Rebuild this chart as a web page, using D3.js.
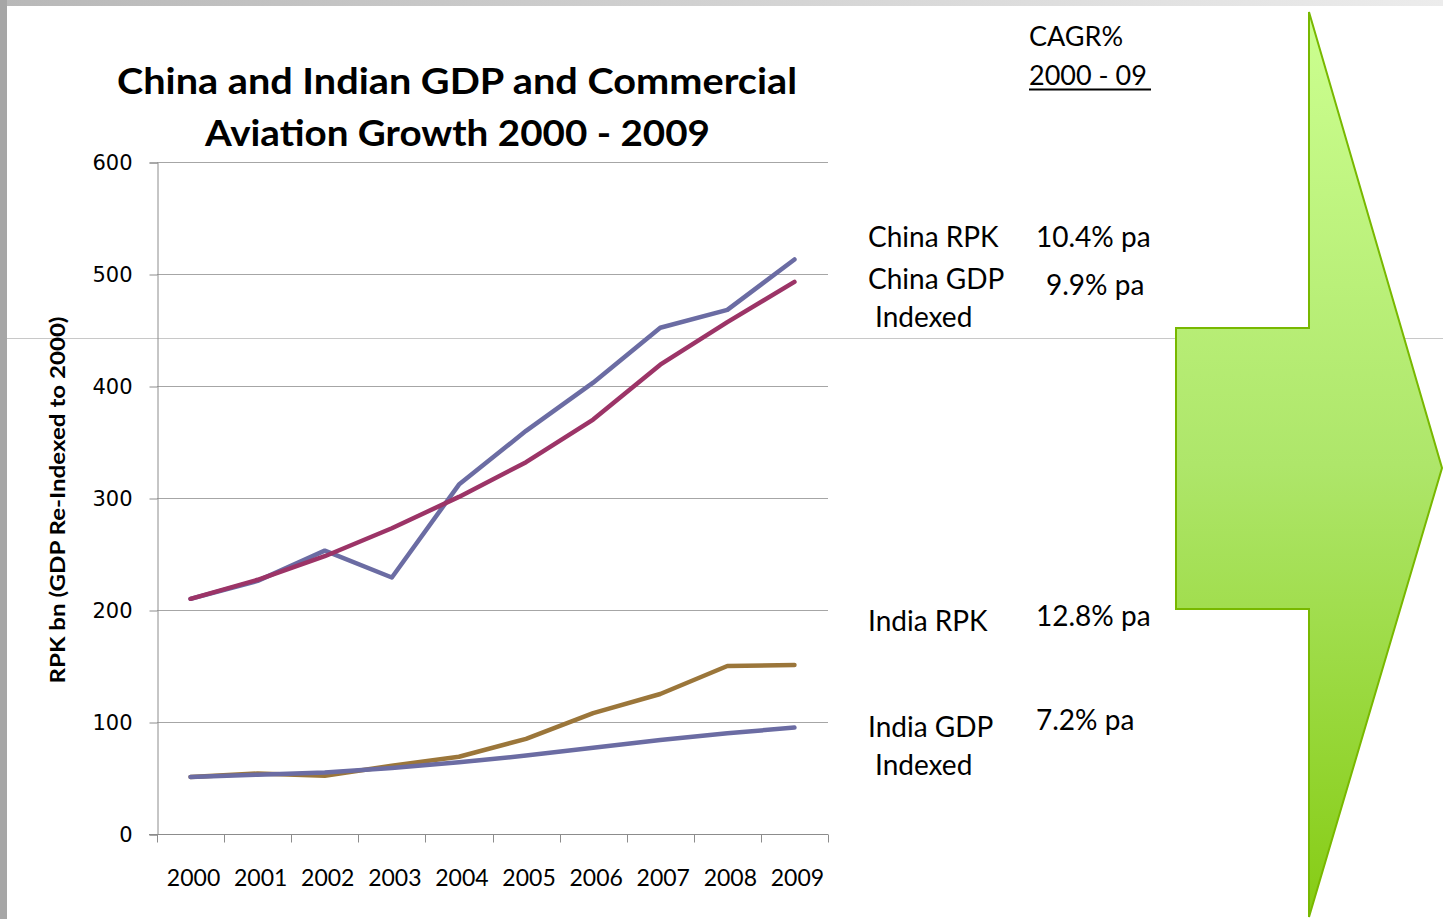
<!DOCTYPE html>
<html>
<head>
<meta charset="utf-8">
<script src="https://cdn.jsdelivr.net/npm/d3@7/dist/d3.min.js"></script>
<style>
  html, body { margin: 0; padding: 0; background: #fff; }
  svg { display: block; }
</style>
</head>
<body>
<svg id="chart" width="1443" height="919"></svg>
<script>
// ---- data ----
const years = ["2000","2001","2002","2003","2004","2005","2006","2007","2008","2009"];
const chinaRPK = [210, 226, 253, 229, 312, 360, 403, 452, 468, 513];
const chinaGDP = [210, 227, 248, 273, 301, 332, 370, 419, 457, 493];
const indiaRPK = [51, 54, 52, 61, 69, 85, 108, 125, 150, 151];
const indiaGDP = [51, 53, 55, 59, 64, 70, 77, 84, 90, 95];
const yTicks = [0, 100, 200, 300, 400, 500, 600];
const seriesNames = ["China RPK", "China GDP", "India RPK", "India GDP"];
const cagrLabels = ["10.4% pa", "9.9% pa", "12.8% pa", "7.2% pa"];

const svg = d3.select("#chart");
const W = 1443, H = 919;
const font = "Lato, 'Open Sans', sans-serif";

// ---- slide decorations ----
const defs = svg.append("defs");
const topG = defs.append("linearGradient").attr("id","topBar").attr("x1","0").attr("x2","1").attr("y1","0").attr("y2","0");
topG.append("stop").attr("offset","0").attr("stop-color","#b8b8b8");
topG.append("stop").attr("offset","1").attr("stop-color","#ececec");
svg.append("rect").attr("x",0).attr("y",0).attr("width",W).attr("height",6).attr("fill","url(#topBar)");
svg.append("rect").attr("x",0).attr("y",0).attr("width",7).attr("height",H).attr("fill","#a6a6a6");
svg.append("line").attr("x1",7).attr("x2",W).attr("y1",338.5).attr("y2",338.5)
  .attr("stroke","#c8c8c8").attr("stroke-width",1);

// ---- arrow ----
const arrowG = defs.append("linearGradient").attr("id","arrowFill").attr("x1","0").attr("x2","0").attr("y1","0").attr("y2","1");
arrowG.append("stop").attr("offset","0").attr("stop-color","#ccff90");
arrowG.append("stop").attr("offset","0.5").attr("stop-color","#aee66a");
arrowG.append("stop").attr("offset","1").attr("stop-color","#86cc14");
const arrowPts = [[1309,12],[1442,468],[1309,917],[1309,609],[1176,609],[1176,328],[1309,328]];
svg.append("polygon")
  .attr("points", arrowPts.map(p => p.join(",")).join(" "))
  .attr("fill","url(#arrowFill)")
  .attr("stroke","#78b800").attr("stroke-width",2).attr("stroke-linejoin","miter");

// ---- scales ----
const x = d3.scaleBand().domain(years).range([157, 828]).padding(0);
const y = d3.scaleLinear().domain([0, 600]).range([834, 162]);

// gridlines
svg.append("g").selectAll("line").data(yTicks).join("line")
  .attr("x1",157).attr("x2",828)
  .attr("y1",d => Math.round(y(d))+0.5).attr("y2",d => Math.round(y(d))+0.5)
  .attr("stroke","#a6a6a6").attr("stroke-width",1);

// y axis
const yAxis = svg.append("g").attr("transform","translate(157.5,0.5)")
  .call(d3.axisLeft(y).tickValues(yTicks).tickSize(8).tickPadding(17).tickFormat(d3.format("d")));
yAxis.select(".domain").attr("stroke","#8c8c8c");
yAxis.selectAll(".tick line").attr("stroke","#8c8c8c");
yAxis.selectAll("text").attr("font-family","'DejaVu Sans', sans-serif").attr("font-size",21).attr("fill","#000");

// x axis
const xAxis = svg.append("g").attr("transform","translate(0," + (834.5) + ")");
xAxis.append("line").attr("x1",149).attr("x2",828).attr("y1",0).attr("y2",0).attr("stroke","#8c8c8c");
const bounds = years.map(d => x(d)).concat([x(years[years.length-1]) + x.bandwidth()]);
xAxis.selectAll("line.tk").data(bounds).join("line").attr("class","tk")
  .attr("x1",d => Math.round(d)+0.5).attr("x2",d => Math.round(d)+0.5).attr("y1",0).attr("y2",8)
  .attr("stroke","#8c8c8c");
xAxis.selectAll("text").data(years).join("text")
  .attr("x", d => x(d) + x.bandwidth()/2 + 3)
  .attr("y", 51)
  .attr("text-anchor","middle")
  .attr("font-family",font).attr("font-size",23).attr("fill","#000")
  .text(d => d);

// lines
const line = d3.line().x((d,i) => x(years[i]) + x.bandwidth()/2).y(d => y(d));
const series = [
  {name: seriesNames[0], values: chinaRPK, color: "#6b6ca3"},
  {name: seriesNames[1], values: chinaGDP, color: "#9c3467"},
  {name: seriesNames[2], values: indiaRPK, color: "#9b763a"},
  {name: seriesNames[3], values: indiaGDP, color: "#6b6ca3"}
];
svg.append("g").selectAll("path").data(series).join("path")
  .attr("d", d => line(d.values))
  .attr("fill","none").attr("stroke", d => d.color)
  .attr("stroke-width",4.5).attr("stroke-linecap","round").attr("stroke-linejoin","round");

// title
const title = svg.append("g").attr("font-family",font).attr("font-weight","bold").attr("font-size",37).attr("fill","#000");
title.append("text").attr("x",457).attr("y",94).attr("text-anchor","middle")
  .attr("textLength",680).attr("lengthAdjust","spacingAndGlyphs")
  .text("China and Indian GDP and Commercial");
title.append("text").attr("x",457.5).attr("y",146).attr("text-anchor","middle")
  .attr("textLength",505).attr("lengthAdjust","spacingAndGlyphs")
  .text("Aviation Growth 2000 - 2009");

// y axis title
svg.append("text")
  .attr("transform","translate(65,500) rotate(-90)")
  .attr("text-anchor","middle")
  .attr("font-family",font).attr("font-weight","bold").attr("font-size",21)
  .attr("textLength",367).attr("lengthAdjust","spacingAndGlyphs")
  .text("RPK bn (GDP Re-Indexed to 2000)");

// right side annotations
const ann = svg.append("g").attr("font-family",font).attr("font-size",28).attr("fill","#000");
ann.append("text").attr("x",1029).attr("y",46).attr("font-size",27).text("CAGR%");
ann.append("text").attr("x",1029).attr("y",85).attr("font-size",27).text("2000 - 09");
ann.append("line").attr("x1",1029).attr("x2",1151).attr("y1",89.5).attr("y2",89.5).attr("stroke","#000").attr("stroke-width",2);

const labelRows = [
  {lines: [seriesNames[0]], ly: 247, cagr: cagrLabels[0], cx: 1036, cy: 247},
  {lines: [seriesNames[1], "Indexed"], ly: 289, cagr: cagrLabels[1], cx: 1046, cy: 295},
  {lines: [seriesNames[2]], ly: 631, cagr: cagrLabels[2], cx: 1036, cy: 626},
  {lines: [seriesNames[3], "Indexed"], ly: 737, cagr: cagrLabels[3], cx: 1036, cy: 730}
];
labelRows.forEach(r => {
  r.lines.forEach((t, i) => {
    ann.append("text").attr("x", i === 0 ? 868 : 875).attr("y", r.ly + i*38).text(t);
  });
  ann.append("text").attr("x", r.cx).attr("y", r.cy).text(r.cagr);
});
</script>
</body>
</html>
